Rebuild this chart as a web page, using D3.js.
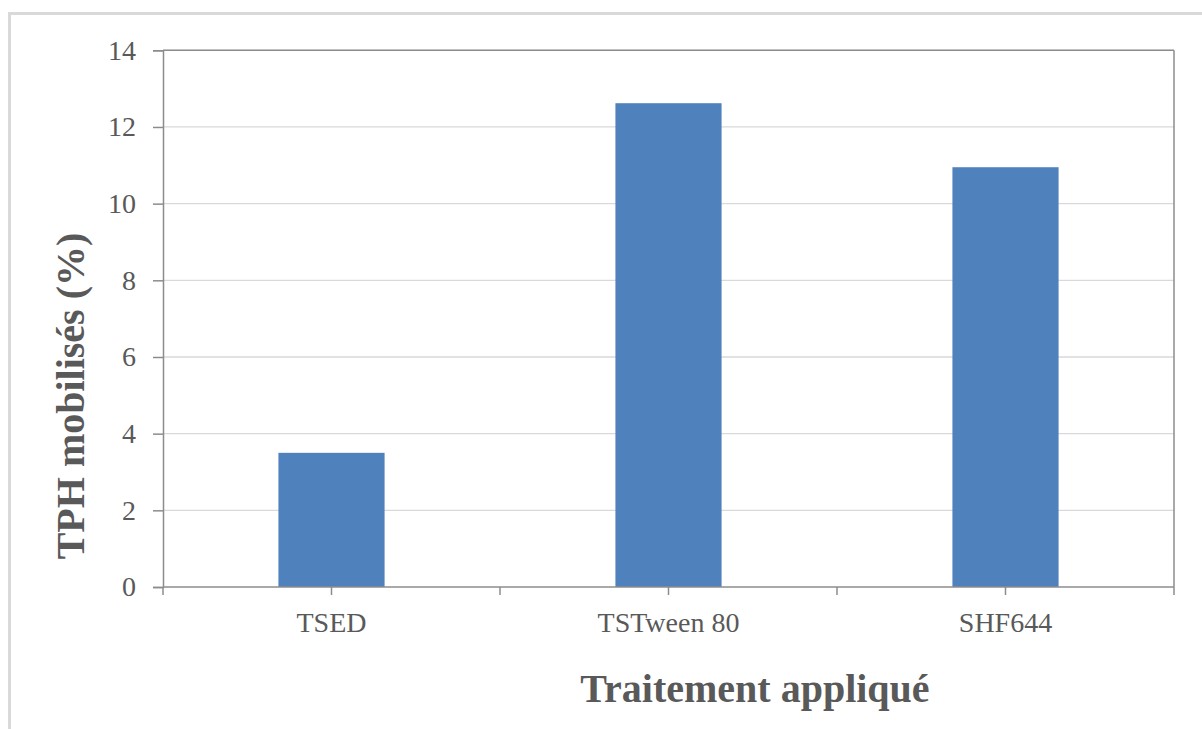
<!DOCTYPE html>
<html>
<head>
<meta charset="utf-8">
<script src="https://cdn.jsdelivr.net/npm/d3@7"></script>
<style>
  html, body { margin: 0; padding: 0; background: #fff; }
  svg { display: block; }
</style>
</head>
<body>
<svg id="chart" width="1202" height="729"></svg>
<script>
const categories = ["TSED", "TSTween 80", "SHF644"];
const values = [3.5, 12.62, 10.95];
const yTicks = [0, 2, 4, 6, 8, 10, 12, 14];
const yTitle = "TPH mobilisés (%)";
const xTitle = "Traitement appliqué";

(function () {
const svg = d3.select("#chart");
const pLeft = 163, pRight = 1174, pTop = 50.3, pBottom = 587;
const font = "'Liberation Serif', 'Times New Roman', serif";
const textColor = "#595959";
const axisColor = "#8c8c8c";

// outer frame
svg.append("rect").attr("x", 9.5).attr("y", 13.5).attr("width", 1300).attr("height", 800)
  .attr("fill", "none").attr("stroke", "#d9d9d9").attr("stroke-width", 3);

const y = d3.scaleLinear().domain([0, 14]).range([pBottom, pTop]);
const xCat = d3.scaleBand().domain(categories).range([pLeft, pRight]).padding(0);
const x = d3.scaleBand().domain(categories).range([pLeft, pRight])
  .paddingInner(0.685).paddingOuter(0.3425);

// gridlines
svg.append("g").selectAll("line").data(yTicks.filter(d => d > 0)).join("line")
  .attr("x1", pLeft).attr("x2", pRight)
  .attr("y1", d => y(d)).attr("y2", d => y(d))
  .attr("stroke", "#d9d9d9").attr("stroke-width", 1.3);

// bars
svg.append("g").selectAll("rect").data(values).join("rect")
  .attr("x", (d, i) => x(categories[i]))
  .attr("width", x.bandwidth())
  .attr("y", d => y(d))
  .attr("height", d => y(0) - y(d))
  .attr("fill", "#4f81bd");

// plot border top & right
svg.append("line").attr("x1", pLeft).attr("x2", pRight).attr("y1", pTop).attr("y2", pTop)
  .attr("stroke", axisColor).attr("stroke-width", 1.5);
svg.append("line").attr("x1", pRight).attr("x2", pRight).attr("y1", pTop).attr("y2", pBottom)
  .attr("stroke", axisColor).attr("stroke-width", 1.5);

// y axis
const yAxis = svg.append("g").attr("transform", `translate(${pLeft},0)`)
  .call(d3.axisLeft(y).tickValues(yTicks).tickSize(10).tickPadding(17).tickFormat(d3.format("d")));
yAxis.select(".domain").attr("stroke", axisColor).attr("stroke-width", 1.5);
yAxis.selectAll(".tick line").attr("stroke", axisColor).attr("stroke-width", 1.5);
yAxis.selectAll("text").attr("fill", textColor).style("font-family", font).style("font-size", "28px");

// x axis: ticks every half category
const halfTicks = [];
categories.forEach((c) => {
  halfTicks.push(xCat(c));
  halfTicks.push(xCat(c) + xCat.bandwidth() / 2);
});
halfTicks.push(pRight);
const xAxisG = svg.append("g");
xAxisG.append("line").attr("x1", pLeft).attr("x2", pRight).attr("y1", pBottom).attr("y2", pBottom)
  .attr("stroke", axisColor).attr("stroke-width", 1.5);
xAxisG.selectAll(".tk").data(halfTicks).join("line").attr("class", "tk")
  .attr("x1", d => d).attr("x2", d => d).attr("y1", pBottom).attr("y2", pBottom + 8)
  .attr("stroke", axisColor).attr("stroke-width", 1.5);
xAxisG.selectAll("text").data(categories).join("text")
  .attr("x", d => xCat(d) + xCat.bandwidth() / 2)
  .attr("y", 632)
  .attr("text-anchor", "middle")
  .attr("fill", textColor).style("font-family", font).style("font-size", "28px")
  .text(d => d);

// axis titles
svg.append("text")
  .attr("x", 755).attr("y", 702)
  .attr("text-anchor", "middle").attr("fill", textColor)
  .style("font-family", font).style("font-size", "40px").style("font-weight", "bold")
  .text(xTitle);
svg.append("text")
  .attr("transform", "translate(84,396) rotate(-90)")
  .attr("text-anchor", "middle").attr("fill", textColor)
  .style("font-family", font).style("font-size", "40px").style("font-weight", "bold")
  .text(yTitle);
})();
</script>
</body>
</html>
